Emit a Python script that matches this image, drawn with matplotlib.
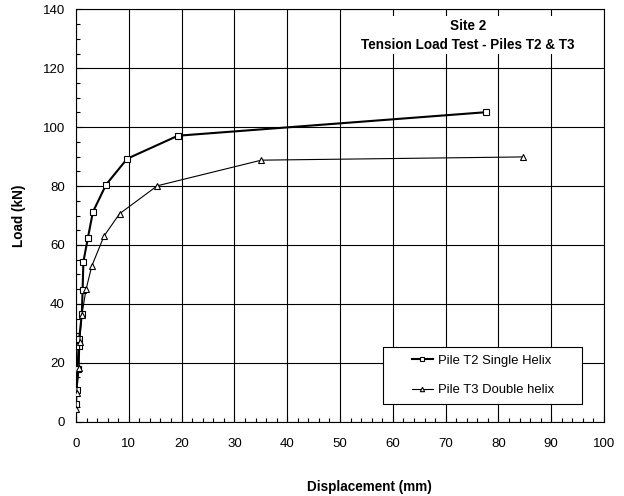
import matplotlib.pyplot as plt
from matplotlib.patches import Rectangle
from matplotlib.ticker import MultipleLocator

plt.rcParams['font.family'] = ['Liberation Sans', 'DejaVu Sans']

# Pile T2 - single helix
t2_disp = [0.0, 0.1, 0.3, 0.5, 0.6, 1.1, 1.25, 1.4, 2.25, 3.2, 5.7, 9.7, 19.3, 77.7]
t2_load = [5.9, 10.7, 17.9, 25.8, 28.2, 36.4, 44.7, 54.3, 62.4, 71.2, 80.5, 89.3, 97.1, 105.1]

# Pile T3 - double helix
t3_disp = [0.0, 0.1, 0.6, 0.7, 1.1, 1.9, 3.0, 5.3, 8.25, 15.4, 35.1, 84.7]
t3_load = [4.2, 9.8, 18.1, 27.1, 36.1, 44.9, 52.9, 63.0, 70.6, 80.1, 88.8, 89.9]

fig = plt.figure(figsize=(6.24, 4.96), dpi=100)
ax = fig.add_axes([0.1218, 0.150, 0.8462, 0.831])

ax.plot(t2_disp, t2_load, color='black', lw=1.5, marker='s', ms=4,
        mfc='white', mec='black', mew=0.8, label='Pile T2 Single Helix', zorder=3)
ax.plot(t3_disp, t3_load, color='black', lw=0.8, marker='^', ms=4.5,
        mfc='white', mec='black', mew=0.8, label='Pile T3 Double helix', zorder=3)

ax.set_xlim(0, 100)
ax.set_ylim(0, 140)
ax.xaxis.set_major_locator(MultipleLocator(10))
ax.xaxis.set_minor_locator(MultipleLocator(2))
ax.yaxis.set_major_locator(MultipleLocator(20))
ax.yaxis.set_minor_locator(MultipleLocator(5))
ax.tick_params(which='both', direction='in', labelsize=9.5, colors='black')
ax.tick_params(which='major', length=4, width=0.8)
ax.tick_params(which='minor', length=3, width=0.8)
ax.tick_params(axis='x', pad=12)
ax.tick_params(axis='y', pad=8)
ax.grid(True, which='major', color='black', lw=0.8)
ax.set_axisbelow(True)
for s in ax.spines.values():
    s.set_linewidth(0.8)

ax.set_xlabel('Displacement (mm)', fontsize=9.75, fontweight='bold', va='center')
ax.xaxis.set_label_coords(0.555, -0.158)
ax.set_ylabel('Load (kN)', fontsize=9.75, fontweight='bold', va='center')
ax.yaxis.set_label_coords(-0.108, 0.5)

ax.text(74.2, 131.3, 'Site 2\nTension Load Test - Piles T2 & T3', ha='center', va='center',
        fontsize=9.75, fontweight='bold', linespacing=1.45,
        bbox=dict(facecolor='white', edgecolor='none', pad=2), zorder=4)

# legend box drawn separately (wide side padding as in the original)
ax.add_patch(Rectangle((0.581, 0.043), 0.377, 0.138, transform=ax.transAxes,
                       facecolor='white', edgecolor='black', lw=0.8, zorder=4))
leg = ax.legend(loc='center', bbox_to_anchor=(0.771, 0.112), fontsize=9.4,
                frameon=False, borderpad=0, labelspacing=1.33, handlelength=1.6,
                handletextpad=0.45, borderaxespad=0, markerscale=0.7)
leg.set_zorder(5)

fig.savefig('out.png', dpi=100)
